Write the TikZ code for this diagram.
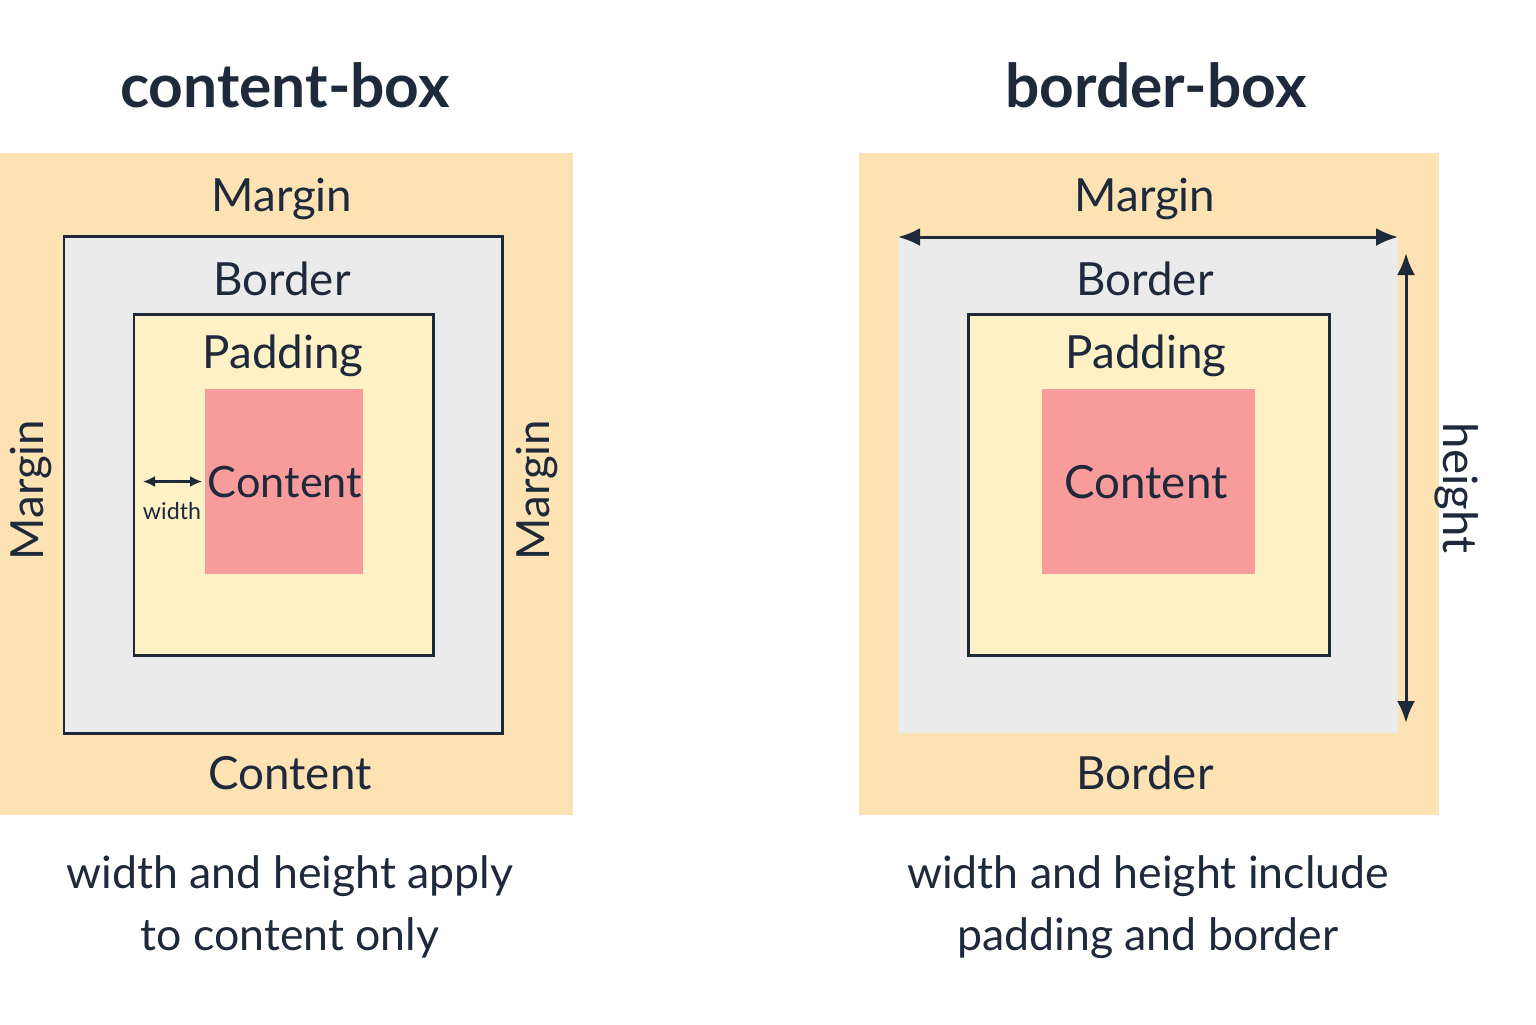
\documentclass[tikz,border=0pt]{standalone}
\usepackage{fontspec}
\setmainfont{Lato}
\usetikzlibrary{arrows.meta, positioning}
\usepackage{xcolor}
\definecolor{ink}{HTML}{1E293B}
\definecolor{marginc}{HTML}{FDE2B4}
\definecolor{borderc}{HTML}{EBEBEB}
\definecolor{paddingc}{HTML}{FEF1C6}
\definecolor{contentc}{HTML}{F89B9B}

\begin{document}
\begin{tikzpicture}[
    mbox/.style={fill=marginc, minimum width=#1, inner sep=0pt, outer sep=0pt},
    bbox/.style={fill=borderc, inner sep=0pt, outer sep=0pt},
    pbox/.style={fill=paddingc, draw=ink, line width=0.85pt, inner sep=0pt, outer sep=0pt},
    cbox/.style={fill=contentc, inner sep=0pt, outer sep=0pt},
    lbl/.style={text=ink, font=\fontsize{13}{16}\selectfont},
    clbl/.style={text=ink, font=\fontsize{12.3}{15}\selectfont},
    ttl/.style={text=ink, font=\bfseries\fontsize{17.2}{20}\selectfont},
    captxt/.style={text=ink, align=center, font=\fontsize{12.7}{17.6}\selectfont},
    arr/.style={{Latex[length=2.2mm,width=1.8mm]}-{Latex[length=2.2mm,width=1.8mm]}, line width=0.85pt, draw=ink},
    warr/.style={{Latex[length=1.2mm,width=1.1mm]}-{Latex[length=1.2mm,width=1.1mm]}, line width=0.6pt, draw=ink}
  ]
  \useasboundingbox (0,0) rectangle (15.36,-10.24);

  % content-box
  \node[ttl] (ltitle) at (2.85,-0.85) {content-box};
  \node[mbox=5.73cm, minimum height=6.62cm] (lmargin) at (2.865,-4.84) {};
  \node[bbox, draw=ink, line width=0.85pt, minimum width=4.38cm, minimum height=4.97cm] (lborder) at (2.83,-4.845) {};
  \node[pbox, minimum width=2.99cm, minimum height=3.41cm] (lpad) at (2.835,-4.845) {};
  \node[cbox, minimum width=1.58cm, minimum height=1.85cm] (lcont) at (2.84,-4.815) {};

  \node[lbl] (lmtop) at (2.82,-1.99) {Margin};
  \node[lbl] (lbtop) at (2.82,-2.79) {Border};
  \node[lbl] (lptop) at (2.83,-3.56) {Padding};
  \node[clbl] (lctxt) at (2.85,-4.82) {Content};
  \node[lbl] (lcbot) at (2.90,-7.73) {Content};
  \node[lbl, rotate=90] (lmleft) at (0.31,-4.90) {Margin};
  \node[lbl, rotate=90] (lmright) at (5.37,-4.90) {Margin};

  \draw[warr] ([xshift=0.09cm]lpad.west |- lcont.west) -- ([xshift=-0.03cm]lcont.west);
  \node[text=ink, font=\fontsize{6.6}{8}\selectfont] (lwidth) at (1.72,-5.11) {width};

  \node[captxt] (lcap) at (2.90,-9.07) {width and height apply\\to content only};

  % border-box
  \node[ttl] (rtitle) at (11.56,-0.85) {border-box};
  \node[mbox=5.80cm, minimum height=6.62cm] (rmargin) at (11.49,-4.84) {};
  \node[bbox, minimum width=5.00cm, minimum height=4.96cm] (rborder) at (11.48,-4.85) {};
  \node[pbox, minimum width=3.61cm, minimum height=3.41cm] (rpad) at (11.485,-4.845) {};
  \node[cbox, minimum width=2.13cm, minimum height=1.85cm] (rcont) at (11.485,-4.815) {};

  \node[lbl] (rmtop) at (11.45,-1.99) {Margin};
  \node[lbl] (rbtop) at (11.45,-2.79) {Border};
  \node[lbl] (rptop) at (11.46,-3.56) {Padding};
  \node[clbl, font=\fontsize{13}{16}\selectfont] (rctxt) at (11.46,-4.82) {Content};
  \node[lbl] (rbbot) at (11.45,-7.73) {Border};

  \draw[arr] (rborder.north west) -- (rborder.north east);
  \draw[arr] ([xshift=0.08cm,yshift=-0.16cm]rborder.north east) -- ([xshift=0.08cm,yshift=0.10cm]rborder.south east);
  \node[lbl, rotate=-90, font=\fontsize{13.5}{16}\selectfont] (rheight) at (14.57,-4.88) {height};

  \node[captxt] (rcap) at (11.48,-9.07) {width and height include\\padding and border};
\end{tikzpicture}
\end{document}
